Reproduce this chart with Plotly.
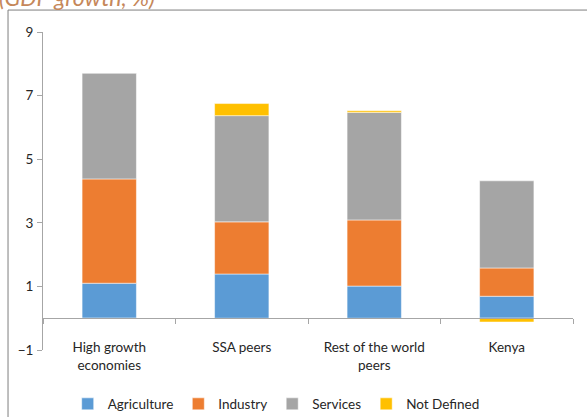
import plotly.graph_objects as go

categories = ["High growth<br>economies", "SSA peers", "Rest of the world<br>peers", "Kenya"]
agriculture = [1.10, 1.39, 1.01, 0.69]
industry = [3.28, 1.64, 2.08, 0.89]
services = [3.32, 3.34, 3.38, 2.74]
not_defined = [-0.02, 0.38, 0.05, -0.12]

series = [
	("Agriculture", agriculture, "#5B9BD5"),
	("Industry", industry, "#ED7D31"),
	("Services", services, "#A5A5A5"),
	("Not Defined", not_defined, "#FFC000"),
]

font = "Lato, 'Open Sans', sans-serif"

fig = go.Figure()
for name, vals, color in series:
	fig.add_trace(go.Bar(x=categories, y=vals, name=name, marker={"color": color, "line": {"color": "white", "width": 0.5}}))

# dummy trace so the zero-level axis with boundary ticks gets drawn
fig.add_trace(go.Scatter(x=categories, y=[None] * len(categories), xaxis="x2", showlegend=False, hoverinfo="skip"))

fig.update_layout(
	barmode="relative",
	bargap=0.59,
	width=587, height=417,
	margin={"l": 43, "r": 14, "t": 32, "b": 67, "autoexpand": False},
	paper_bgcolor="white", plot_bgcolor="white",
	font={"family": font, "size": 13.5, "color": "#262626"},
	showlegend=True,
	legend={"orientation": "h", "x": 0.44, "xanchor": "center", "y": -0.17, "yanchor": "middle",
		"font": {"size": 13.5}, "itemwidth": 30, "traceorder": "normal"},
	xaxis={"anchor": "free", "position": 0.038, "showline": False, "ticks": "", "showgrid": False, "zeroline": False},
	xaxis2={"overlaying": "x", "matches": "x", "anchor": "free", "position": 0.1, "showline": True,
		"linecolor": "#a6a6a6", "linewidth": 1, "ticks": "outside", "tickson": "boundaries",
		"ticklen": 5, "tickcolor": "#a6a6a6", "showticklabels": False, "showgrid": False},
	yaxis={"range": [-1, 9], "tick0": -1, "dtick": 2, "showline": True, "linecolor": "#a6a6a6",
		"ticks": "outside", "ticklen": 5, "tickcolor": "#a6a6a6", "ticklabelstandoff": 1,
		"showgrid": False, "zeroline": False},
	shapes=[{"type": "rect", "xref": "paper", "yref": "paper", "x0": -0.066, "x1": 1.2, "y0": -0.4, "y1": 1.069,
		"line": {"color": "#7f7f7f", "width": 1}}],
	annotations=[{"text": "<i>(GDP growth, %)</i>", "xref": "paper", "yref": "paper", "x": -0.086, "y": 1.109,
		"xanchor": "left", "yanchor": "middle", "showarrow": False,
		"font": {"size": 23, "color": "#C5875A"}}],
)

# page body has an 8px default margin; drop it so the figure sits at the window corner
fig.write_html("out.html", config={"displayModeBar": False}, post_script="document.body.style.margin='0';")
